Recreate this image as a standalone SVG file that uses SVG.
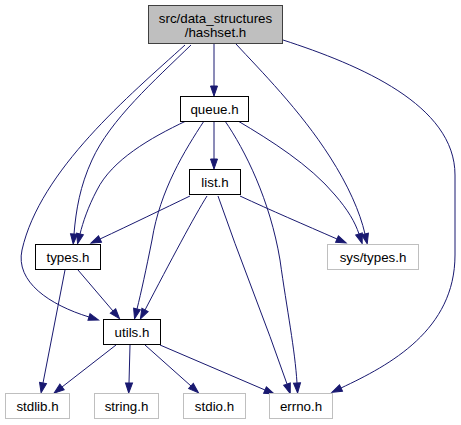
<svg xmlns="http://www.w3.org/2000/svg" width="461" height="425" viewBox="0 0 461 425">
<defs>
<marker id="ah" markerUnits="userSpaceOnUse" markerWidth="12" markerHeight="10" refX="0" refY="3.5" orient="auto" overflow="visible">
<path d="M0,0 L10,3.5 L0,7 Z" fill="#191970" stroke="#191970"/>
</marker>
</defs>
<style>
.n rect{stroke-width:1}
.own rect{fill:#ffffff;stroke:#000000}
.sys rect{fill:#ffffff;stroke:#bfbfbf}
.root rect{fill:#bfbfbf;stroke:#404040}
text{font-family:"Liberation Sans",Arial,sans-serif;font-size:13.33px;text-anchor:middle;fill:#000000}
#edges path{fill:none;stroke:#191970;stroke-width:1;marker-end:url(#ah)}
</style>
<rect width="461" height="425" fill="#ffffff"/>
<g id="edges">
<path d="M214,44 L214,86"/>
<path d="M191,45 C155,80 110,120 92,160 C80,186 76,210 74,234"/>
<path d="M185,45 C130,95 40,170 22,250 C15,282 50,305 89,317"/>
<path d="M236,44 C260,70 300,110 330,157 C348,185 360,212 365,234"/>
<path d="M283,40 C360,65 455,105 455,175 L455,255 C455,330 390,365 341,388"/>
<path d="M214,121 L214,159"/>
<path d="M186,121 C150,138 112,160 97,190 C88,207 83,222 80,234"/>
<path d="M204,121 C185,150 160,190 152,240 C146,270 141,293 137,309"/>
<path d="M225,121 C245,150 270,200 280,260 C287,310 295,350 297,383"/>
<path d="M238,121 C270,140 310,165 335,195 C348,210 355,222 359,234"/>
<path d="M190,196 C165,208 130,225 100,239"/>
<path d="M207,196 C195,215 170,262 145,310"/>
<path d="M218,196 C240,260 265,320 287,384"/>
<path d="M240,196 C270,210 305,225 337,239"/>
<path d="M78,270 L113,311"/>
<path d="M65,270 L43,383"/>
<path d="M116,345 L62,387"/>
<path d="M130,345 L129,383"/>
<path d="M145,345 L191,386"/>
<path d="M160,345 L265,390"/>
</g>
<g id="node_hashset" class="n root"><rect x="148.5" y="5.5" width="134" height="38"/><text x="215.5" y="22.5">src/data_structures</text><text x="215.5" y="37">/hashset.h</text></g>
<g id="node_queue" class="n own"><rect x="180.5" y="96.5" width="68" height="25"/><text x="214.5" y="113.5">queue.h</text></g>
<g id="node_list" class="n own"><rect x="189.5" y="169.5" width="51" height="25"/><text x="215" y="186.5">list.h</text></g>
<g id="node_types" class="n own"><rect x="35.5" y="244.5" width="65" height="25"/><text x="68" y="261.5">types.h</text></g>
<g id="node_systypes" class="n sys"><rect x="327.5" y="244.5" width="91" height="25"/><text x="373" y="261.5">sys/types.h</text></g>
<g id="node_utils" class="n own"><rect x="103.5" y="319.5" width="57" height="25"/><text x="132" y="336.5">utils.h</text></g>
<g id="node_stdlib" class="n sys"><rect x="5.5" y="393.5" width="64" height="25"/><text x="37.5" y="410.5">stdlib.h</text></g>
<g id="node_string" class="n sys"><rect x="94.5" y="393.5" width="64" height="25"/><text x="126.5" y="410.5">string.h</text></g>
<g id="node_stdio" class="n sys"><rect x="183.5" y="393.5" width="62" height="25"/><text x="214.5" y="410.5">stdio.h</text></g>
<g id="node_errno" class="n sys"><rect x="269.5" y="393.5" width="63" height="25"/><text x="301" y="410.5">errno.h</text></g>
</svg>
